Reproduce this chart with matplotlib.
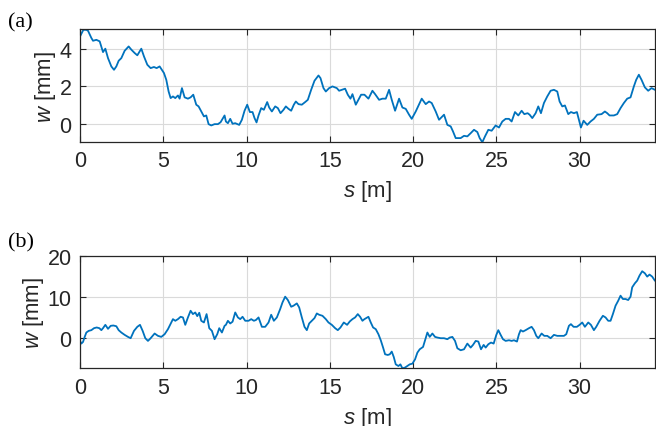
import numpy as np
import matplotlib
matplotlib.use("Agg")
import matplotlib.pyplot as plt

# profile (a)
s_a = [0, 0.2, 0.38, 0.48, 0.68, 0.78, 0.98, 1.18, 1.38, 1.52, 1.68, 1.88, 2.04, 2.18, 2.32,
       2.48, 2.68, 2.92, 3.08, 3.28, 3.44, 3.68, 3.84, 4.04, 4.24, 4.44, 4.6, 4.78, 5.04, 5.18,
       5.32, 5.44, 5.58, 5.72, 5.88, 5.98, 6.12, 6.28, 6.48, 6.64, 6.8, 6.98, 7.12, 7.28, 7.44,
       7.58, 7.72, 7.88, 8.08, 8.28, 8.44,
       8.68, 8.76, 8.88, 9.02, 9.16, 9.32, 9.56, 9.72, 9.88, 10.04, 10.2, 10.36, 10.48, 10.6,
       10.72, 10.88, 11.04, 11.24, 11.36, 11.52, 11.72, 11.88, 12.04, 12.22, 12.36, 12.52, 12.68,
       12.84, 12.96, 13.12, 13.32, 13.52, 13.68, 13.88, 14.08, 14.32, 14.44, 14.62, 14.76, 14.96,
       15.16, 15.42, 15.56, 15.72, 15.92, 16.08, 16.24, 16.36, 16.56, 16.72, 16.88, 17.08,
       17.32, 17.56, 17.72, 17.96, 18.16, 18.36, 18.56, 18.72, 18.92, 19.16, 19.36, 19.56, 19.76,
       19.92, 20.16, 20.52, 20.76, 20.96, 21.12, 21.36, 21.56, 21.86, 22.06, 22.26, 22.4, 22.56,
       22.86, 23.06, 23.26, 23.46, 23.66, 23.86, 24.0, 24.16, 24.32, 24.52, 24.72, 24.96, 25.16,
       25.36, 25.56, 25.76, 25.92, 26.12, 26.32, 26.52, 26.68, 26.88, 27.0, 27.16, 27.36, 27.52,
       27.68, 27.86, 28.06, 28.26, 28.46, 28.66, 28.8, 28.96, 29.12, 29.32, 29.48, 29.66, 29.84,
       29.96, 30.08, 30.24, 30.46, 30.66, 30.86, 31.06, 31.32, 31.52, 31.66, 31.8, 32.06, 32.26,
       32.46, 32.66, 32.86, 33.06, 33.26, 33.4, 33.56, 33.72, 33.92, 34.12, 34.32, 34.52, 34.7]
w_a = [4.65, 5.0, 5.0, 4.95, 4.57, 4.42, 4.47, 4.39, 3.82, 4.0, 3.5, 3.06, 2.88, 3.06, 3.36,
       3.5, 3.89, 4.12, 3.95, 3.77, 3.65, 4.0, 3.59, 3.15, 2.97, 3.03, 2.97, 3.06, 2.71, 2.35,
       1.73, 1.38, 1.47, 1.38, 1.52, 1.35, 1.91, 1.42, 1.35, 1.42, 1.56, 1.03, 0.94, 0.67, 0.41,
       0.46, 0.0, -0.07, 0.0, 0.0, 0.1,
       0.46, 0.14, 0.05, 0.28, 0.02, 0.05, -0.04, 0.23, 0.71, 1.03, 0.64, 0.64, 0.32, 0.09,
       0.46, 0.85, 0.76, 1.17, 0.88, 0.67, 0.94, 0.85, 0.58, 0.76, 0.94, 0.81, 0.71,
       1.03, 1.2, 1.06, 1.03, 1.17, 1.29, 1.82, 2.3, 2.58, 2.44, 1.91, 1.73, 1.91,
       2.0, 1.91, 1.77, 1.82, 1.88, 1.56, 1.35, 1.59, 1.03, 1.29, 1.56, 1.56,
       1.35, 1.77, 1.59, 1.29, 1.35, 1.35, 1.82, 1.29, 0.71, 1.35, 0.88, 0.81, 0.5,
       0.28, 0.67, 1.35, 1.06, 1.2, 1.12, 0.67, 0.23, 0.5, -0.04, -0.12, -0.39, -0.74,
       -0.74, -0.62, -0.65, -0.48, -0.3, -0.42, -0.74, -0.96, -0.65, -0.3, -0.35, -0.07, -0.18,
       0.14, 0.28, 0.28, 0.14, 0.64, 0.46, 0.71, 0.53, 0.58, 0.5, 0.32, 0.58, 0.94,
       0.58, 1.12, 1.47, 1.77, 1.82, 1.73, 1.2, 0.94, 0.99, 0.53, 0.64, 0.58, 0.64,
       0.23, -0.18, 0.18, -0.04, 0.14, 0.28, 0.5, 0.53, 0.67, 0.58, 0.46, 0.46, 0.53,
       0.85, 1.12, 1.35, 1.42, 2.0, 2.35, 2.62, 2.35, 1.95, 1.77, 1.91, 1.82, 1.85]

# profile (b)
s_b = [0, 0.08, 0.18, 0.28, 0.38, 0.52, 0.68, 0.84, 1.0, 1.16, 1.28, 1.38, 1.52, 1.68, 1.84,
       2.0, 2.18, 2.32, 2.48, 2.68, 2.88, 3.04, 3.24, 3.44, 3.6, 3.76, 3.92, 4.08, 4.24, 4.48,
       4.68, 4.88, 5.08, 5.28, 5.48, 5.58, 5.72, 5.88, 6.04, 6.18, 6.32, 6.48, 6.64, 6.78, 6.92,
       7.04, 7.16, 7.28, 7.44, 7.6, 7.76, 7.92, 8.08, 8.24, 8.36, 8.52, 8.68,
       8.76, 8.88, 9.02, 9.16, 9.32, 9.48, 9.62, 9.76, 9.92, 10.12, 10.28, 10.44, 10.56, 10.72,
       10.92, 11.12, 11.32, 11.48, 11.64, 11.82, 12.02, 12.16, 12.32, 12.48, 12.68, 12.82, 13.02,
       13.16, 13.32, 13.48, 13.62, 13.76, 13.92, 14.08, 14.22, 14.36, 14.56, 14.76, 14.92, 15.12,
       15.32, 15.48, 15.64, 15.84, 16.04, 16.2, 16.36, 16.52, 16.68, 16.82, 16.96, 17.08,
       17.32, 17.46, 17.6, 17.76, 17.92, 18.06, 18.2, 18.32, 18.48, 18.6, 18.72, 18.84, 18.96,
       19.12, 19.24, 19.36, 19.52, 19.66, 19.8, 19.96, 20.12, 20.26, 20.4, 20.6, 20.72, 20.86,
       21.0, 21.16, 21.32, 21.46, 21.66, 21.86, 22.06, 22.2, 22.36, 22.52, 22.66, 22.86, 23.06,
       23.26, 23.46, 23.6, 23.76, 23.92, 24.08, 24.24, 24.36, 24.52, 24.68, 24.84, 25.0, 25.12,
       25.26, 25.4, 25.56, 25.76, 25.92, 26.06, 26.24, 26.36, 26.46, 26.6, 26.76, 26.96, 27.12,
       27.26, 27.4, 27.52, 27.72, 27.88, 28.06, 28.26, 28.46, 28.66, 28.86, 29.06, 29.2, 29.36,
       29.48, 29.64, 29.84, 30.0, 30.16, 30.32, 30.52, 30.68, 30.86, 31.0, 31.2, 31.4, 31.56,
       31.72, 31.86, 32.0, 32.16, 32.32, 32.46, 32.6, 32.76, 32.92, 33.06, 33.16, 33.32, 33.46,
       33.6, 33.76, 33.92, 34.06, 34.2, 34.36, 34.52, 34.7]
w_b = [-0.65, -1.3, -0.9, 0.32, 1.38, 1.78, 1.95, 2.43, 2.6, 2.43, 1.95, 2.43, 3.24, 2.27, 3.0,
       3.08, 2.9, 1.95, 1.38, 0.81, 0.32, 0.0, 1.78, 2.76, 3.24, 1.78, 0.0, -0.65, 0.0, 1.14,
       0.57, 0.32, 0.97, 2.19, 3.81, 4.62, 4.22, 4.62, 5.19, 5.03, 3.24, 5.03, 6.65, 5.84, 6.24,
       5.35, 6.16, 4.22, 3.81, 5.84, 2.43, 1.78, -0.24, 0.97, 2.43, 1.38, 3.0,
       3.24, 4.22, 3.57, 4.0, 6.24, 5.03, 4.62, 5.19, 4.22, 4.22, 4.62, 4.22, 4.4, 5.03,
       2.76, 2.76, 3.81, 5.68, 4.22, 5.03, 7.06, 8.68, 10.06, 9.25, 7.62, 7.87, 8.43,
       7.46, 5.03, 2.76, 1.95, 3.57, 4.22, 4.87, 6.0, 5.68, 5.43, 4.62, 3.81, 3.24,
       2.43, 1.95, 2.6, 3.81, 3.24, 4.06, 4.62, 5.03, 5.84, 5.19, 4.22, 4.62,
       5.19, 3.81, 2.6, 2.19, 0.97, -0.49, -2.27, -3.89, -4.06, -3.9, -3.24, -4.54, -6.33,
       -6.73, -6.33, -7.3, -7.1, -6.73, -6.33, -6.16, -5.11, -3.49, -2.68, -2.11, -0.49, 1.38,
       0.32, 1.14, 0.32, 0.16, 0.0, 0.0, -0.24, 0.16, 0.32, -0.65, -2.43, -2.92, -2.68,
       -1.3, -2.27, -1.62, -0.65, -0.81, -2.68, -1.62, -2.27, -1.46, -1.05, -1.3, 0.81, 1.95,
       0.81, -0.24, -0.65, -0.49, -0.65, -0.49, -0.81, 0.97, 1.95, 1.62, 1.95, 2.43, 2.76,
       1.95, 0.57, 0.0, 1.14, 0.57, 0.57, 0.0, 0.81, 0.57, 0.57, 0.57, 0.97, 3.0,
       3.41, 2.76, 2.76, 3.24, 3.81, 2.76, 3.81, 3.24, 1.95, 2.76, 4.22, 5.43, 5.03,
       4.22, 4.22, 5.84, 7.87, 9.08, 10.3, 9.49, 9.49, 9.25, 10.06, 12.33, 13.3, 13.95,
       15.17, 16.22, 15.73, 14.92, 15.41, 14.92, 13.95, 13.5]

xticks = [0, 5, 10, 15, 20, 25, 30]

plt.rcParams['font.family'] = ['Liberation Sans', 'DejaVu Sans']
plt.rcParams['mathtext.fontset'] = 'custom'
plt.rcParams['mathtext.it'] = 'Liberation Sans:italic'
plt.rcParams['mathtext.rm'] = 'Liberation Sans'

fig = plt.figure(figsize=(6.56, 4.27), dpi=100)
ax1 = fig.add_axes([0.122, 0.665, 0.877, 0.265])
ax2 = fig.add_axes([0.122, 0.135, 0.877, 0.264])

dark = '#262626'


def style(ax, yticks, ylim):
    ax.set_xlim(0, 34.55)
    ax.set_ylim(*ylim)
    ax.set_xticks(xticks)
    ax.set_yticks(yticks)
    ax.grid(True, color='#dadada', linewidth=0.8)
    ax.set_axisbelow(True)
    ax.tick_params(direction='in', top=True, right=True, length=4, width=0.8,
                   labelsize=15.5, colors=dark, pad=6)
    for sp in ax.spines.values():
        sp.set_color(dark)
        sp.set_linewidth(0.9)
    ax.set_xlabel('$s$ [m]', fontsize=16, color=dark, labelpad=5)
    ax.set_ylabel('$w$ [mm]', fontsize=16, color=dark, labelpad=1)


ax1.plot(s_a, w_a, color='#0072BD', linewidth=1.3)
style(ax1, [0, 2, 4], (-0.95, 5.05))

ax2.plot(s_b, w_b, color='#0072BD', linewidth=1.3)
style(ax2, [0, 10, 20], (-7.3, 20))

fig.text(0.012, 0.946, '(a)', family='Liberation Serif', fontsize=16, va='center')
fig.text(0.012, 0.431, '(b)', family='Liberation Serif', fontsize=16, va='center')

fig.savefig('out.png', dpi=100)
